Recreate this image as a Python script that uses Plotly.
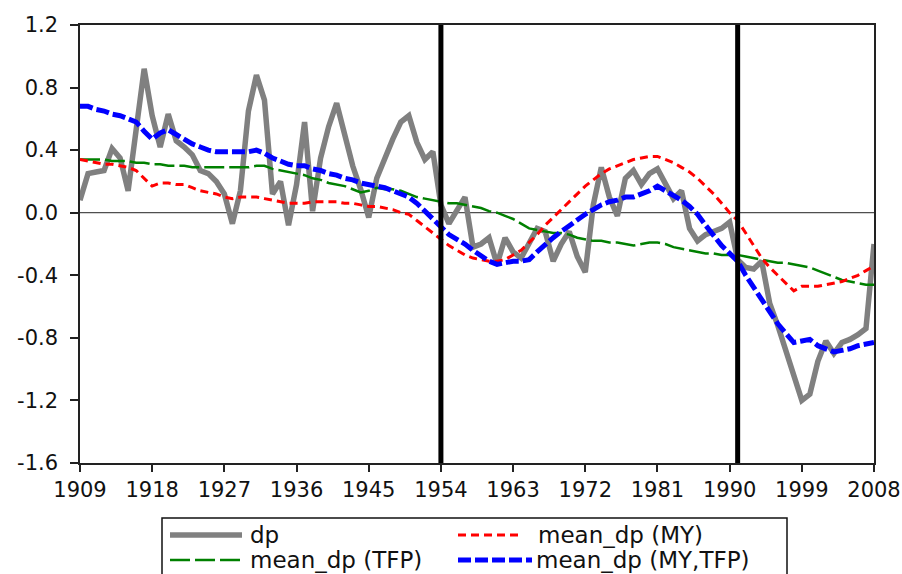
import plotly.graph_objects as go

years = list(range(1909, 2009))

dp = [
    0.08, 0.25, 0.26, 0.27, 0.41, 0.35, 0.14, 0.55, 0.92, 0.62,
    0.42, 0.63, 0.46, 0.42, 0.37, 0.27, 0.25, 0.20, 0.12, -0.07,
    0.14, 0.65, 0.88, 0.72, 0.12, 0.20, -0.08, 0.18, 0.58, 0.01,
    0.35, 0.55, 0.70, 0.50, 0.30, 0.15, -0.03, 0.22, 0.35, 0.47,
    0.58, 0.62, 0.45, 0.34, 0.39, 0.05, -0.07, 0.02, 0.10, -0.22,
    -0.20, -0.16, -0.33, -0.16, -0.25, -0.29, -0.20, -0.10, -0.12, -0.31,
    -0.20, -0.12, -0.28, -0.38, 0.05, 0.29, 0.10, -0.02, 0.22, 0.27,
    0.18, 0.25, 0.28, 0.18, 0.09, 0.14, -0.10, -0.18, -0.14, -0.12,
    -0.10, -0.06, -0.30, -0.35, -0.36, -0.31, -0.58, -0.72, -0.88, -1.05,
    -1.20, -1.16, -0.95, -0.82, -0.90, -0.83, -0.81, -0.78, -0.74, -0.20,
]

mean_dp_my = [
    0.34, 0.33, 0.32, 0.31, 0.31, 0.30, 0.29, 0.27, 0.22, 0.17,
    0.19, 0.19, 0.18, 0.18, 0.16, 0.14, 0.13, 0.12, 0.10, 0.09,
    0.10, 0.10, 0.10, 0.09, 0.08, 0.07, 0.06, 0.06, 0.06, 0.07,
    0.07, 0.07, 0.07, 0.06, 0.06, 0.05, 0.04, 0.04, 0.03, 0.02,
    0.00, -0.01, -0.05, -0.09, -0.13, -0.17, -0.21, -0.24, -0.27, -0.29,
    -0.30, -0.31, -0.31, -0.30, -0.27, -0.24, -0.19, -0.14, -0.08, -0.03,
    0.02, 0.07, 0.12, 0.17, 0.21, 0.25, 0.28, 0.30, 0.32, 0.34,
    0.35, 0.36, 0.36, 0.34, 0.32, 0.29, 0.26, 0.22, 0.17, 0.12,
    0.06, 0.00, -0.05, -0.13, -0.21, -0.29, -0.35, -0.40, -0.45, -0.50,
    -0.47, -0.47, -0.47, -0.46, -0.45, -0.44, -0.42, -0.40, -0.37, -0.34,
]

mean_dp_tfp = [
    0.34, 0.34, 0.34, 0.34, 0.33, 0.33, 0.33, 0.32, 0.32, 0.31,
    0.31, 0.30, 0.30, 0.30, 0.29, 0.29, 0.29, 0.29, 0.29, 0.29,
    0.29, 0.29, 0.30, 0.30, 0.28, 0.27, 0.26, 0.25, 0.24, 0.22,
    0.21, 0.19, 0.18, 0.17, 0.15, 0.13, 0.14, 0.16, 0.15, 0.15,
    0.14, 0.12, 0.10, 0.09, 0.08, 0.07, 0.06, 0.06, 0.05, 0.04,
    0.03, 0.01, 0.00, -0.02, -0.04, -0.07, -0.10, -0.11, -0.12, -0.13,
    -0.13, -0.14, -0.16, -0.17, -0.18, -0.18, -0.19, -0.19, -0.20, -0.21,
    -0.20, -0.19, -0.19, -0.20, -0.22, -0.23, -0.24, -0.25, -0.26, -0.26,
    -0.27, -0.27, -0.27, -0.28, -0.29, -0.30, -0.31, -0.32, -0.32, -0.33,
    -0.34, -0.35, -0.37, -0.39, -0.41, -0.43, -0.44, -0.45, -0.46, -0.46,
]

mean_dp_my_tfp = [
    0.68, 0.68, 0.66, 0.65, 0.63, 0.62, 0.60, 0.58, 0.52, 0.47,
    0.51, 0.53, 0.50, 0.47, 0.44, 0.42, 0.40, 0.39, 0.39, 0.39,
    0.39, 0.39, 0.40, 0.38, 0.35, 0.33, 0.31, 0.30, 0.30, 0.28,
    0.27, 0.25, 0.24, 0.22, 0.21, 0.19, 0.18, 0.17, 0.16, 0.14,
    0.12, 0.10, 0.06, 0.01, -0.05, -0.10, -0.14, -0.17, -0.20, -0.24,
    -0.28, -0.31, -0.33, -0.32, -0.31, -0.31, -0.30, -0.25, -0.20, -0.16,
    -0.12, -0.08, -0.05, -0.01, 0.02, 0.05, 0.07, 0.08, 0.10, 0.10,
    0.12, 0.14, 0.17, 0.14, 0.11, 0.08, 0.04, -0.01, -0.08, -0.15,
    -0.21, -0.26, -0.31, -0.40, -0.48, -0.55, -0.63, -0.71, -0.77, -0.83,
    -0.82, -0.81, -0.85, -0.87, -0.89, -0.88, -0.87, -0.85, -0.84, -0.83,
]

break_years = [1954, 1991]
x_ticks = list(range(1909, 2009, 9))
y_ticks = [1.2, 0.8, 0.4, 0.0, -0.4, -0.8, -1.2, -1.6]
y_tick_text = ["1.2", "0.8", "0.4", "0.0", "-0.4", "-0.8", "-1.2", "-1.6"]

FONT = "DejaVu Sans"
INK = "#111111"

# page geometry (pixels)
W, H = 902, 574
M_L, M_R, M_T, M_B = 80, 28, 25, 111
PLOT_W = W - M_L - M_R
PLOT_H = H - M_T - M_B


def px_x(px):
    """Horizontal page pixel -> paper fraction."""
    return (px - M_L) / PLOT_W


def px_y(py):
    """Vertical page pixel (from top) -> paper fraction."""
    return (H - M_B - py) / PLOT_H


series = [
    dict(name="dp", y=dp,
         line=dict(color="#808080", width=5.5)),
    dict(name="mean_dp (TFP)", y=mean_dp_tfp,
         line=dict(color="#008000", width=2.5, dash="20px,5px")),
    dict(name="mean_dp (MY)", y=mean_dp_my,
         line=dict(color="#ff0000", width=3, dash="8px,5px")),
    dict(name="mean_dp (MY,TFP)", y=mean_dp_my_tfp,
         line=dict(color="#0000ff", width=5, dash="13px,4px")),
]

fig = go.Figure()
for s in series:
    fig.add_trace(go.Scatter(x=years, y=s["y"], name=s["name"], mode="lines",
                             line=s["line"], showlegend=False))

# zero reference line
fig.add_shape(type="line", xref="paper", yref="y", x0=0, x1=1, y0=0, y1=0,
              line=dict(color="#222222", width=1), layer="below")

# structural break markers
for yr in break_years:
    fig.add_shape(type="line", xref="x", yref="paper", x0=yr, x1=yr, y0=0, y1=1,
                  line=dict(color="black", width=5), layer="above")

# two-column key below the plot: (sample x0, sample x1, text x, row y)
key_layout = {
    "dp": (170, 242, 248, 535),
    "mean_dp (MY)": (458, 521, 536, 535),
    "mean_dp (TFP)": (170, 242, 248, 560),
    "mean_dp (MY,TFP)": (458, 532, 534, 560),
}
fig.add_shape(type="rect", xref="paper", yref="paper",
              x0=px_x(162), x1=px_x(787), y0=px_y(518), y1=px_y(610),
              line=dict(color=INK, width=1.5), fillcolor="white", layer="above")
for s in series:
    x0, x1, tx, ry = key_layout[s["name"]]
    fig.add_shape(type="line", xref="paper", yref="paper",
                  x0=px_x(x0), x1=px_x(x1), y0=px_y(ry), y1=px_y(ry),
                  line=s["line"], layer="above")
    fig.add_annotation(xref="paper", yref="paper", x=px_x(tx), y=px_y(ry),
                       text=s["name"], showarrow=False,
                       xanchor="left", yanchor="middle",
                       font=dict(family=FONT, size=23, color=INK))

fig.update_layout(
    width=W, height=H,
    margin=dict(l=M_L, r=M_R, t=M_T, b=M_B, autoexpand=False),
    paper_bgcolor="white", plot_bgcolor="white",
    font=dict(family=FONT, size=21, color=INK),
    showlegend=False,
    xaxis=dict(
        range=[1909, 2008], automargin=False,
        tickmode="array", tickvals=x_ticks,
        ticks="outside", ticklen=7, tickwidth=1.5, tickcolor="#222222",
        showline=True, linecolor="#222222", linewidth=1.5, mirror=True,
        showgrid=False, zeroline=False,
        tickfont=dict(family=FONT, size=21),
    ),
    yaxis=dict(
        range=[-1.6, 1.2], automargin=False,
        tickmode="array", tickvals=y_ticks, ticktext=y_tick_text,
        ticks="outside", ticklen=8, tickwidth=1.5, tickcolor="#222222",
        ticklabelstandoff=8,
        showline=True, linecolor="#222222", linewidth=1.5, mirror=True,
        showgrid=False, zeroline=False,
        tickfont=dict(family=FONT, size=21),
    ),
)

fig.write_html("out.html")
